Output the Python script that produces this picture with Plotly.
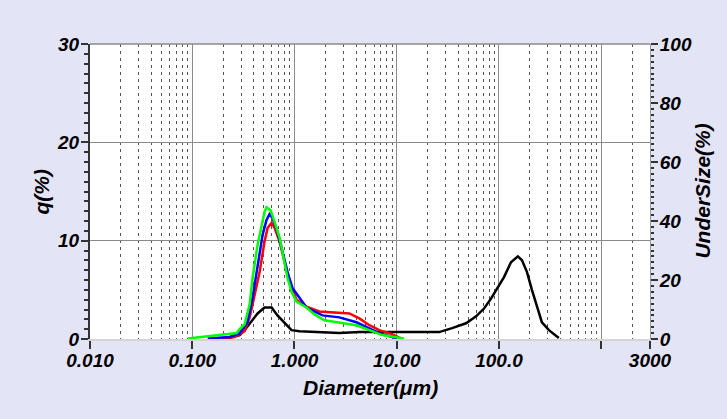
import numpy as np
import plotly.graph_objects as go

# ---- data ----
green_d = [0.0903, 0.148, 0.232, 0.272, 0.291, 0.325, 0.364, 0.389, 0.436, 0.477, 0.509, 0.533,
           0.584, 0.638, 0.715, 0.798, 0.855, 0.935, 1.047, 1.31, 1.57, 1.96, 2.75, 4.03, 5.40,
           7.22, 9.46, 11.8]
green_q = [0.05, 0.3, 0.5, 0.6, 1.0, 1.5, 3.5, 6.2, 9.6, 11.4, 12.9, 13.4,
           13.1, 11.9, 10.3, 7.8, 6.2, 4.8, 3.8, 3.2, 2.5, 1.9, 1.7, 1.4, 0.9,
           0.4, 0.2, 0.05]

blue_d = [0.1415, 0.232, 0.291, 0.3475, 0.389, 0.436, 0.488, 0.533, 0.570, 0.610, 0.682, 0.763,
          0.855, 0.955, 1.12, 1.31, 1.876, 2.75, 4.03, 5.40, 6.75, 9.04, 10.1]
blue_q = [0.05, 0.2, 0.6, 1.7, 4.2, 7.5, 10.6, 12.1, 12.7, 12.3, 10.9, 8.9,
          6.8, 5.2, 4.2, 3.2, 2.4, 2.2, 1.7, 1.1, 0.6, 0.2, 0.05]

red_d = [0.194, 0.260, 0.325, 0.364, 0.389, 0.456, 0.509, 0.546, 0.597, 0.638, 0.715, 0.798,
         0.893, 1.047, 1.31, 1.75, 2.75, 3.44, 4.31, 5.40, 6.75, 8.45, 9.89, 11.07]
red_q = [0.05, 0.2, 0.8, 2.2, 3.5, 6.8, 9.9, 11.3, 11.8, 11.3, 9.9, 7.8,
         5.8, 4.0, 3.3, 2.8, 2.7, 2.6, 2.1, 1.4, 0.9, 0.6, 0.3, 0.05]

black_d = [0.217, 0.291, 0.325, 0.364, 0.436, 0.509, 0.597, 0.682, 0.798, 0.935, 1.12, 1.75,
           2.75, 4.31, 10.6, 26.0, 34.8, 47.6, 59.7, 71.4, 83.6, 95.5, 112, 131, 153, 168,
           188, 210, 235, 263, 308, 385]
black_q = [0.05, 0.4, 0.9, 1.6, 2.6, 3.2, 3.2, 2.4, 1.6, 0.9, 0.8, 0.7,
           0.6, 0.7, 0.7, 0.7, 1.1, 1.6, 2.3, 3.1, 4.1, 5.1, 6.3, 7.8, 8.4, 8.0,
           6.8, 5.0, 3.3, 1.7, 0.9, 0.1]

x_tickvals = [0.01, 0.1, 1, 10, 100, 1000, 3000]
x_ticktext = ["0.010", "0.100", "1.000", "10.00", "100.0", "", "3000"]
y_tickvals = [0, 10, 20, 30]
y2_tickvals = [0, 20, 40, 60, 80, 100]

minor_x = [m * 10.0 ** k for k in range(-2, 4) for m in range(2, 10) if m * 10.0 ** k <= 3000]

FONT = "Liberation Sans, Arial, sans-serif"
BG = "rgb(228,228,247)"

fig = go.Figure()
fig.add_trace(go.Scatter(x=black_d, y=black_q, mode="lines", line=dict(color="#000000", width=2.5), showlegend=False))
fig.add_trace(go.Scatter(x=red_d, y=red_q, mode="lines", line=dict(color="#FF0000", width=2.5), showlegend=False))
fig.add_trace(go.Scatter(x=blue_d, y=blue_q, mode="lines", line=dict(color="#0000FF", width=2.5), showlegend=False))
fig.add_trace(go.Scatter(x=green_d, y=green_q, mode="lines", line=dict(color="#00FF00", width=2.5), showlegend=False))
fig.add_trace(go.Scatter(x=[None], y=[None], yaxis="y2", mode="lines", showlegend=False, hoverinfo="skip"))

tickfont = dict(family=FONT, size=19, color="#000", weight="bold", style="italic")
titlefont = dict(family=FONT, size=21, color="#000", weight="bold", style="italic")

fig.update_layout(
    width=727, height=419,
    margin=dict(l=90, r=77, t=44, b=80),
    paper_bgcolor=BG, plot_bgcolor="#FFFFFF",
    xaxis=dict(
        type="log", range=[-2, np.log10(3000)],
        tickmode="array", tickvals=x_tickvals, ticktext=x_ticktext,
        showgrid=True, gridcolor="#8a8a8a", gridwidth=1,
        ticks="outside", ticklen=8, tickwidth=1.5, tickcolor="#333",
        showline=True, linecolor="#d4d4d4", linewidth=2,
        tickfont=tickfont, ticklabelstandoff=-5,
        minor=dict(tickmode="array", tickvals=minor_x, showgrid=True,
                   gridcolor="#555555", gridwidth=1, griddash="3px,4px", ticks=""),
        zeroline=False,
    ),
    yaxis=dict(
        range=[0, 30], tickmode="array", tickvals=y_tickvals,
        showgrid=True, gridcolor="#8a8a8a", gridwidth=1,
        ticks="outside", ticklen=7, tickwidth=1.5, tickcolor="#333",
        showline=True, linecolor="#333", linewidth=2,
        tickfont=tickfont, zeroline=False, ticklabelstandoff=-2,
        minor=dict(dtick=1, ticks="outside", ticklen=4, tickcolor="#333", showgrid=False),
    ),
    yaxis2=dict(
        range=[0, 100], overlaying="y", side="right",
        tickmode="array", tickvals=y2_tickvals,
        showgrid=False, zeroline=False,
        ticks="outside", ticklen=7, tickwidth=1.5, tickcolor="#333",
        showline=True, linecolor="#9a9a9a", linewidth=1,
        tickfont=tickfont, ticklabelstandoff=-2,
        minor=dict(dtick=2, ticks="outside", ticklen=3, tickcolor="#333"),
    ),
    shapes=[dict(type="line", xref="x domain", yref="y domain", x0=0, x1=1, y0=1, y1=1,
                 line=dict(color="#8a8a8a", width=1.5))],
    annotations=[
        dict(text="Diameter(μm)", xref="paper", yref="paper", x=0.5, y=-0.166, showarrow=False,
             font=titlefont, xanchor="center", yanchor="middle"),
        dict(text="q(%)", xref="paper", yref="paper", x=-0.0875, y=0.5, showarrow=False,
             textangle=-90, font=titlefont, xanchor="center", yanchor="middle"),
        dict(text="UnderSize(%)", xref="paper", yref="paper", x=1.093, y=0.5, showarrow=False,
             textangle=-90, font=titlefont, xanchor="center", yanchor="middle"),
    ],
)

fig.write_html(
    "out.html",
    config={"displayModeBar": False},
    post_script="document.body.style.margin='0';document.body.style.background='" + BG + "';",
)
